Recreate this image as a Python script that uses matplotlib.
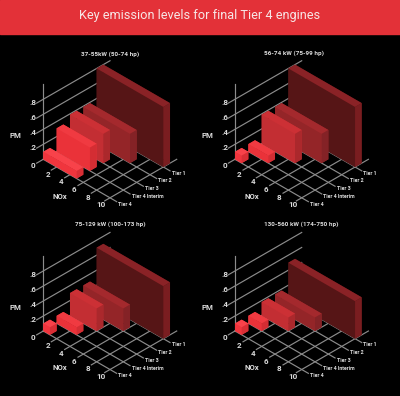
import matplotlib
matplotlib.use("Agg")
import matplotlib.pyplot as plt
from mpl_toolkits.mplot3d import proj3d

W, H = 400, 396
BG = "#000000"
BAND = "#e33138"
GRID = "#8c8c8c"
TXT = "#dcdcdc"
FONT = "Roboto"

main_title = "Key emission levels for final Tier 4 engines"
panel_titles = ["37-55kW (50-74 hp)", "56-74 kW (75-99 hp)",
                "75-129 kW (100-173 hp)", "130-560 kW (174-750 hp)"]
tiers = ["Tier 4", "Tier 4 Interim", "Tier 3", "Tier 2", "Tier 1"]
nox_ticks = [2, 4, 6, 8, 10]
pm_ticks = [0.2, 0.4, 0.6, 0.8]
pm_labels = [".2", ".4", ".6", ".8"]

# per panel, order follows `tiers`
nox_37 = [5, 5, 5, 7, 10]
pm_37 = [0.1, 0.31, 0.39, 0.39, 0.8]
nox_56 = [1, 3, 5, 7, 10]
pm_56 = [0.1, 0.1, 0.39, 0.39, 0.8]
nox_75 = [1, 3, 4, 6, 10]
pm_75 = [0.1, 0.1, 0.3, 0.3, 0.7]
nox_130 = [1, 2, 4, 6, 10]
pm_130 = [0.1, 0.1, 0.18, 0.18, 0.5]
nox_sets = [nox_37, nox_56, nox_75, nox_130]
pm_sets = [pm_37, pm_56, pm_75, pm_130]

origins = [(43.3, 159.3), (235, 159.3), (43.3, 331), (235, 331)]
title_pos = [(110, 54), (294.5, 52.7), (110.3, 224.3), (301.7, 224.3)]

front = ["#f0353d", "#ea3239", "#c32e33", "#942528", "#561516"]
top = ["#f8424a", "#f03a41", "#cc3035", "#a4292d", "#8a2226"]
side = ["#d92e35", "#d42d33", "#ab282c", "#842226", "#7a1d20"]

fig = plt.figure(figsize=(W / 100, H / 100), dpi=100, facecolor=BG)
fig.patches.append(plt.Rectangle((0, 1 - 34 / H), 1, 34 / H, transform=fig.transFigure,
                                 color=BAND, zorder=0))


def put(px, py, s, **kw):
    """Text at a position given in image pixels."""
    fig.text(px / W, 1 - py / H, s, family=FONT, ha=kw.pop("ha", "center"), va="center",
             color=kw.pop("color", TXT), **kw)


put(200, 16, main_title, color="#f7e6e6", fontsize=9.2)


def place(ax, ox, oy):
    """Scale and shift the 3D axes so that the floor corner lands at (ox, oy) in pixels."""
    target = 66.7  # pixels across for the NOx axis
    side_px = 300.0
    for _ in range(2):
        ax.set_position([0.1, 0.1, side_px / W, side_px / H])
        M = ax.get_proj()
        p0 = ax.transData.transform(proj3d.proj_transform(0, 0, 0, M)[:2])
        p1 = ax.transData.transform(proj3d.proj_transform(10, 0, 0, M)[:2])
        side_px *= target / (p1[0] - p0[0])
    ax.set_position([0.1, 0.1, side_px / W, side_px / H])
    M = ax.get_proj()
    p0 = ax.transData.transform(proj3d.proj_transform(0, 0, 0, M)[:2])
    ax.set_position([0.1 + (ox - p0[0]) / W, 0.1 + (H - oy - p0[1]) / H, side_px / W, side_px / H])


def to_px(ax, x, y, z):
    M = ax.get_proj()
    p = ax.transData.transform(proj3d.proj_transform(x, y, z, M)[:2])
    return p[0], H - p[1]


for i in range(4):
    ax = fig.add_axes([0, 0, 0.5, 0.5], projection="3d", proj_type="ortho",
                      computed_zorder=False)
    ax.patch.set_alpha(0)
    ax.set_axis_off()
    ax.view_init(elev=35.26, azim=-45)
    ax.set_xlim(0, 10)
    ax.set_ylim(0, 5)
    ax.set_zlim(0, 1)
    ax.set_box_aspect((94.3, 94.3, 91.9))
    place(ax, *origins[i])

    kw = dict(color=GRID, lw=0.85, zorder=1, clip_on=False)
    ax.plot([0, 0], [0, 0], [0, 1.0], **kw)
    for z in pm_ticks:
        ax.plot([0, 0], [-0.5, 5], [z, z], **kw)
    ax.plot([0, 0], [-0.5, 5], [0, 0], **kw)
    for x in [0] + nox_ticks:
        ax.plot([x, x], [-0.4 if x else 0, 5], [0, 0], **kw)
    for r in range(5):
        ax.plot([0, 11], [r, r], [0, 0], **kw)

    for r in range(4, -1, -1):
        # bar3d face order: -z, +z, -y, +y, -x, +x
        c = [front[r], top[r], front[r], front[r], front[r], side[r]]
        ax.bar3d(0, r, 0, nox_sets[i][r], 0.5, pm_sets[i][r], color=c,
                 shade=False, zorder=5 + (4 - r), edgecolor="none", linewidth=0)

    for x in nox_ticks:
        px, py = to_px(ax, x, 0, 0)
        put(px - 9, py + 7, str(x), fontsize=5.8, weight="bold")
    px, py = to_px(ax, 0, 0, 0)
    put(px - 10, py + 6.4, "0", fontsize=5.8, weight="bold")
    for z, lab in zip(pm_ticks, pm_labels):
        px, py = to_px(ax, 0, 0, z)
        put(px - 10, py + 3.6, lab, fontsize=5.8, weight="bold")
    for r, lab in enumerate(tiers):
        px, py = to_px(ax, 11, r, 0)
        put(px + 1.5, py + 2.4, lab, fontsize=3.8, ha="left", weight="bold")

    ox, oy = origins[i]
    put(ox - 28, oy - 23.3, "PM", fontsize=5.6, weight="bold")
    put(ox + 17, oy + 36.7, "NOx", fontsize=5.6, weight="bold")
    tx, ty = title_pos[i]
    put(tx, ty, panel_titles[i], fontsize=4.6, weight="bold")

fig.savefig("out.png", dpi=100, facecolor=BG)
